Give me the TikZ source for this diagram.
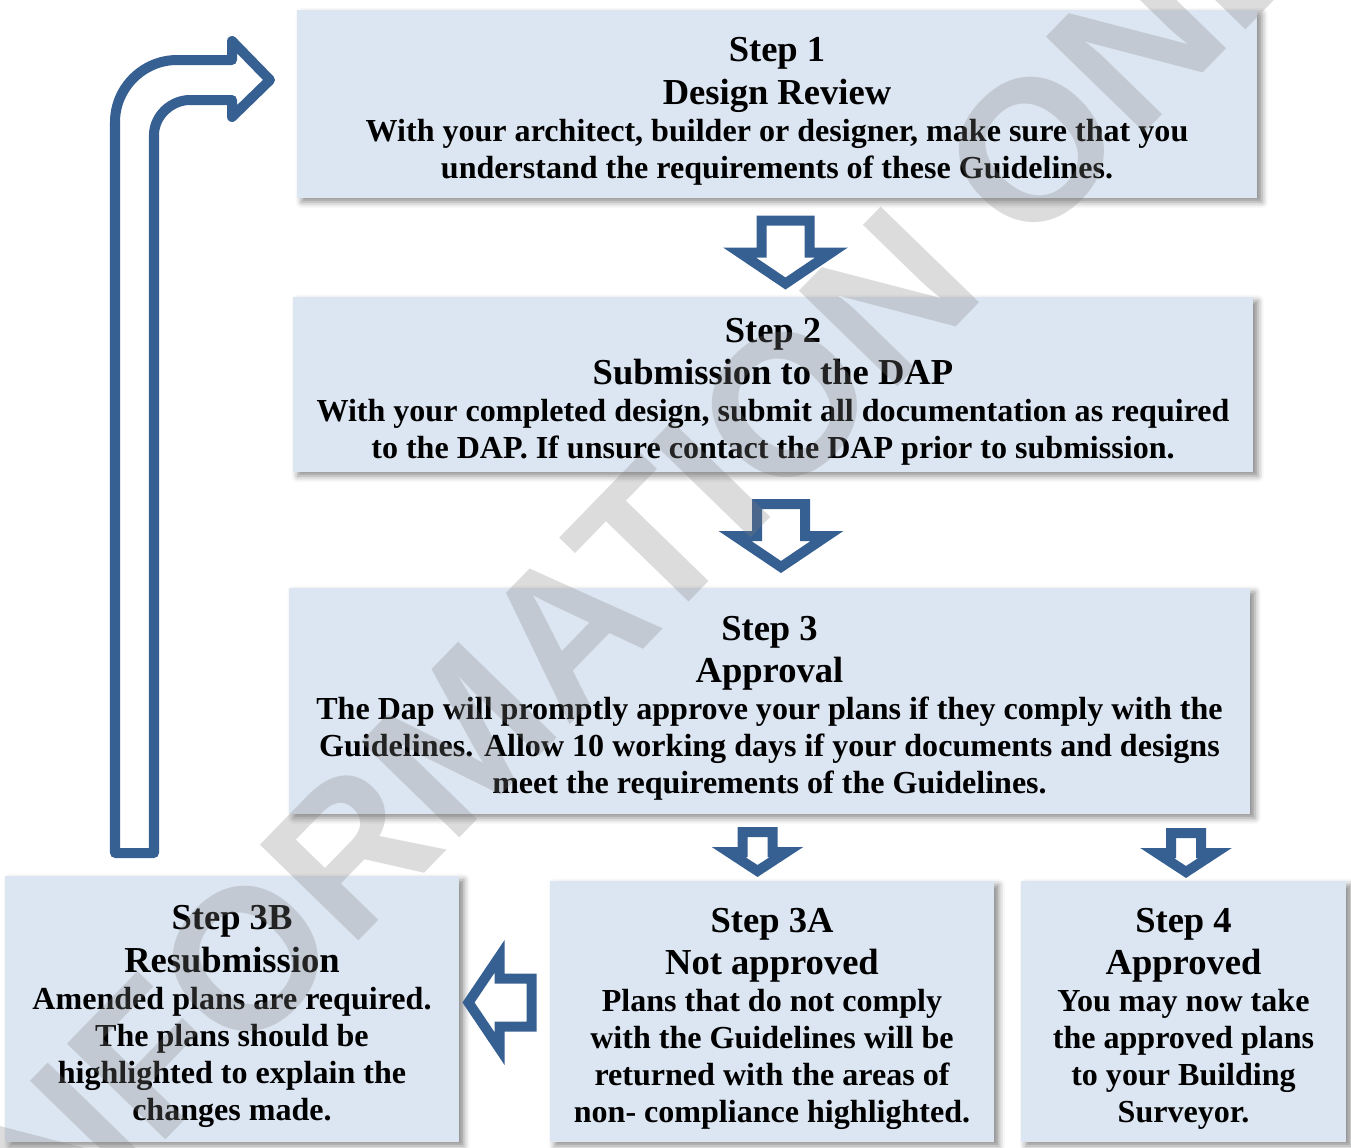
\documentclass[tikz,border=0pt]{standalone}
\usepackage{fontspec}
\setmainfont{Liberation Serif}
\newfontfamily\wmfont{Liberation Sans}
\usepackage{xcolor}
\usetikzlibrary{shadows.blur}

\definecolor{boxblue}{RGB}{220,230,242}
\definecolor{arrowblue}{RGB}{55,96,146}

\newcommand\bodysize{\fontsize{22.8}{26.3}\selectfont}
\newcommand\ttl[1]{{\fontsize{26}{30}\selectfont #1}}
% first title line, with a strut to sit the block a little lower
\newcommand\ttlfirst[1]{{\fontsize{26}{30}\selectfont\rule{0pt}{27.6pt}#1}}

\tikzset{
  stepbox/.style={fill=boxblue, inner sep=0pt, align=center,
    font=\bfseries\bodysize,
    blur shadow={shadow xshift=0.12cm, shadow yshift=-0.1cm,
      shadow blur radius=0.15cm, shadow opacity=45}},
  arrline/.style={draw=arrowblue, line width=0.25cm, fill=white},
  bigarr/.pic={\path[arrline, pic actions]
    (-24,-32) -- (24,-32) -- (24,0) -- (46,0) -- (0,31) -- (-46,0) -- (-24,0) -- cycle;},
  smallarr/.pic={\path[arrline, pic actions]
    (-15,-20) -- (15,-20) -- (15,0) -- (29,0) -- (0,19) -- (-29,0) -- (-15,0) -- cycle;},
  watermark/.style={font=\wmfont\bfseries\fontsize{142}{142}\selectfont, text=gray,
    text opacity=0.28, inner sep=0pt, rotate=45.8}
}

\begin{document}
\begin{tikzpicture}[x=0.025cm, y=-0.025cm]
\useasboundingbox (0,0) rectangle (1351,1147);

% steps
\node[stepbox, minimum width=24cm, minimum height=4.7cm] (s1) at (777,104)
  {\ttlfirst{Step 1}\\[4pt] \ttl{Design Review}\\
   With your architect, builder or designer, make sure that you\\
   understand the requirements of these Guidelines.};
\node[stepbox, minimum width=24cm, minimum height=4.375cm] (s2) at (773,384.5)
  {\ttlfirst{Step 2}\\[4pt] \ttl{Submission to the DAP}\\
   With your completed design, submit all documentation as required\\
   to the DAP. If unsure contact the DAP prior to submission.};
\node[stepbox, minimum width=24.025cm, minimum height=5.65cm] (s3) at (769.5,701)
  {\ttlfirst{Step 3}\\[4pt] \ttl{Approval}\\
   The Dap will promptly approve your plans if they comply with the\\
   Guidelines. Allow 10 working days if your documents and designs\\
   meet the requirements of the Guidelines.};
\node[stepbox, minimum width=11.35cm, minimum height=6.65cm] (s3b) at (232,1009)
  {\ttlfirst{Step 3B}\\[4pt] \ttl{Resubmission}\\
   Amended plans are required.\\ The plans should be\\
   highlighted to explain the\\ changes made.};
\node[stepbox, minimum width=11.1cm, minimum height=6.525cm] (s3a) at (772,1011.5)
  {\ttlfirst{Step 3A}\\[4pt] \ttl{Not approved}\\
   Plans that do not comply\\ with the Guidelines will be\\
   returned with the areas of\\ non- compliance highlighted.};
\node[stepbox, minimum width=8.125cm, minimum height=6.525cm] (s4) at (1183.5,1011.5)
  {\ttlfirst{Step 4}\\[4pt] \ttl{Approved}\\
   You may now take\\ the approved plans\\ to your Building\\ Surveyor.};

% block arrows
\pic at (785.5,252.5) {bigarr};
\pic at (781,536) {bigarr};
\pic at (757.5,852) {smallarr};
\pic at (1186,853) {smallarr};
\pic[fill=boxblue, rotate=-90] at (499.5,1002.5) {bigarr};

% back to step 1
\draw[draw=arrowblue, line width=0.25cm, line join=round]
  (115,853) -- (115,122) .. controls (115,88) and (143,60) .. (177,60)
  -- (232,60) -- (232,41) -- (270,80) -- (232,117) -- (232,100) -- (190,100)
  .. controls (171,100) and (154,116) .. (154,135) -- (154,853) -- cycle;

\node[watermark] (wm) at (660,533) {INFORMATION ONLY};
\end{tikzpicture}
\end{document}
